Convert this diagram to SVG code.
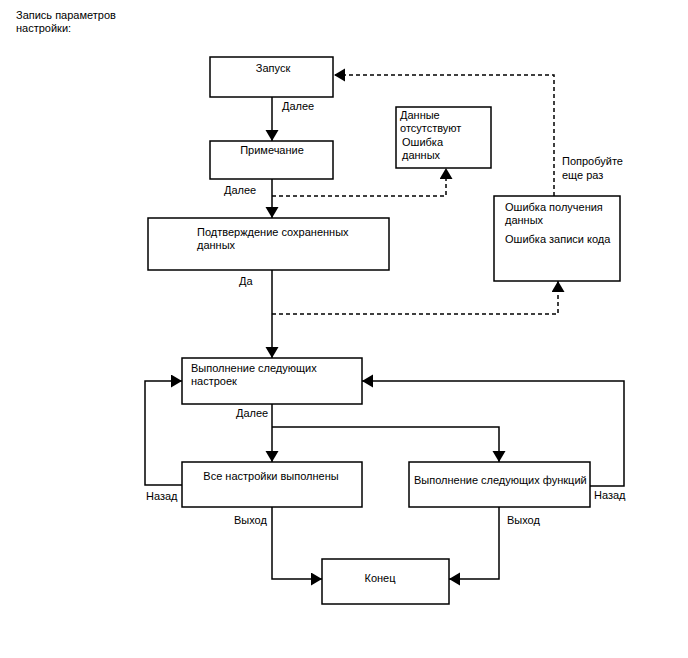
<svg xmlns="http://www.w3.org/2000/svg" width="688" height="658" viewBox="0 0 688 658">
<defs>
<marker id="ah" markerUnits="userSpaceOnUse" markerWidth="12" markerHeight="14" refX="11" refY="6.5" orient="auto">
<path d="M0,0 L11,6.5 L0,13 z" fill="#000"/>
</marker>
<style>
text{font-family:"Liberation Sans",Arial,sans-serif;font-size:11px;fill:#000}
.box{fill:#fff;stroke:#000;stroke-width:1.5}
.c{fill:none;stroke:#000;stroke-width:1.5}
.d{fill:none;stroke:#000;stroke-width:1.5;stroke-dasharray:4,3}
.m{text-anchor:middle}
</style>
</defs>
<rect width="688" height="658" fill="#fff"/>
<text x="16" y="19">Запись параметров</text>
<text x="16" y="32">настройки:</text>

<g id="connectors">
<path class="c" d="M272,97 V141" marker-end="url(#ah)"/>
<path class="c" d="M272,179 V218" marker-end="url(#ah)"/>
<path class="d" d="M272,196 H446 V168" marker-end="url(#ah)"/>
<path class="c" d="M272,270 V358" marker-end="url(#ah)"/>
<path class="d" d="M272,314 H558 V281" marker-end="url(#ah)"/>
<path class="d" d="M554,196 V75 H334" marker-end="url(#ah)"/>
<path class="c" d="M272,404 V462" marker-end="url(#ah)"/>
<path class="c" d="M272,427 H499 V462" marker-end="url(#ah)"/>
<path class="c" d="M182,485 H145 V381 H182" marker-end="url(#ah)"/>
<path class="c" d="M590,486 H624 V381 H362" marker-end="url(#ah)"/>
<path class="c" d="M272,507 V579 H322" marker-end="url(#ah)"/>
<path class="c" d="M499,507 V579 H449" marker-end="url(#ah)"/>
<text x="282" y="110">Далее</text>
<text x="224" y="194">Далее</text>
<text x="239" y="285">Да</text>
<text x="562" y="165">Попробуйте</text>
<text x="562" y="179">еще раз</text>
<text x="236" y="417">Далее</text>
<text x="146" y="500">Назад</text>
<text x="594" y="499">Назад</text>
<text x="234" y="524">Выход</text>
<text x="507" y="524">Выход</text>
</g>

<g id="zapusk">
<rect class="box" x="210" y="57" width="123" height="40"/>
<text class="m" x="273" y="72">Запуск</text>
</g>
<g id="primechanie">
<rect class="box" x="210" y="141" width="123" height="38"/>
<text class="m" x="272" y="154">Примечание</text>
</g>
<g id="podtverzhdenie">
<rect class="box" x="148" y="218" width="241" height="52"/>
<text x="197" y="236">Подтверждение сохраненных</text>
<text x="197" y="249">данных</text>
</g>
<g id="dannye">
<rect class="box" x="396" y="107" width="95" height="61"/>
<text x="400" y="119">Данные</text>
<text x="400" y="132">отсутствуют</text>
<text x="402" y="146">Ошибка</text>
<text x="402" y="159">данных</text>
</g>
<g id="oshibka">
<rect class="box" x="494" y="196" width="126" height="85"/>
<text x="505" y="211">Ошибка получения</text>
<text x="505" y="224">данных</text>
<text x="505" y="243">Ошибка записи кода</text>
</g>
<g id="vypolnenie-nastroek">
<rect class="box" x="182" y="358" width="180" height="46"/>
<text x="191" y="372">Выполнение следующих</text>
<text x="191" y="385">настроек</text>
</g>
<g id="vse-nastroyki">
<rect class="box" x="182" y="462" width="180" height="45"/>
<text class="m" x="271" y="480">Все настройки выполнены</text>
</g>
<g id="vypolnenie-funkciy">
<rect class="box" x="409" y="462" width="181" height="45"/>
<text x="414" y="484">Выполнение следующих функций</text>
</g>
<g id="konec">
<rect class="box" x="322" y="559" width="127" height="45"/>
<text class="m" x="380" y="582">Конец</text>
</g>
</svg>
